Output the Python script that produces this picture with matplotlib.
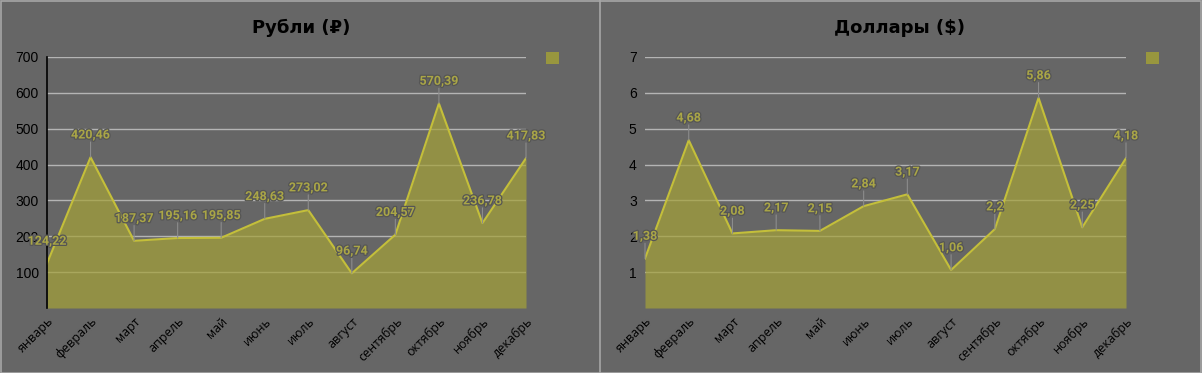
import matplotlib
matplotlib.use('Agg')
import matplotlib.pyplot as plt
import matplotlib.patheffects as pe
from matplotlib.patches import Patch, Rectangle

months = ['январь', 'февраль', 'март', 'апрель', 'май', 'июнь',
          'июль', 'август', 'сентябрь', 'октябрь', 'ноябрь', 'декабрь']
rub_values = [124.22, 420.46, 187.37, 195.16, 195.85, 248.63,
              273.02, 96.74, 204.57, 570.39, 236.78, 417.83]
usd_values = [1.38, 4.68, 2.08, 2.17, 2.15, 2.84,
              3.17, 1.06, 2.2, 5.86, 2.25, 4.18]
rub_ticks = [100, 200, 300, 400, 500, 600, 700]
usd_ticks = [1, 2, 3, 4, 5, 6, 7]

BG = '#666666'
FILL = '#a5a238'
LINE = '#c4bf3a'
LABEL = '#aaa646'
GRID = '#b4b4b4'

fig = plt.figure(figsize=(12.02, 3.73), dpi=100, facecolor=BG)

# frame around the image and divider between panels
fig.patches.append(Rectangle((0.0005, 0.001), 0.999, 0.997, transform=fig.transFigure,
                             fill=False, edgecolor='#a6a6a6', linewidth=1.2))
fig.add_artist(plt.Line2D([600 / 1202, 600 / 1202], [0, 1], transform=fig.transFigure,
                          color='#a6a6a6', linewidth=1.2))


def draw_panel(ax, values, ticks, title, left_spine):
    x = list(range(len(values)))
    ax.set_facecolor(BG)
    ax.fill_between(x, values, 0, color=FILL, alpha=0.7, linewidth=0, zorder=3)
    ax.plot(x, values, color=LINE, linewidth=1.5, zorder=4)
    ax.set_xlim(0, len(values) - 1)
    ax.set_ylim(0, ticks[-1])
    ax.set_yticks(ticks)
    ax.set_yticklabels([str(t) for t in ticks], fontfamily='Liberation Sans', fontsize=10)
    ax.yaxis.grid(True, color=GRID, linewidth=1, zorder=1)
    ax.set_axisbelow(True)
    ax.set_xticks(x)
    ax.set_xticklabels(months, rotation=45, ha='right', rotation_mode='anchor',
                       fontsize=9, fontfamily='Open Sans', color='black')
    ax.tick_params(axis='both', length=0, colors='black')
    ax.tick_params(axis='y', pad=6)
    ax.tick_params(axis='x', pad=5)
    for side in ['top', 'right', 'bottom', 'left']:
        ax.spines[side].set_visible(False)
    if left_spine:
        ax.spines['left'].set_visible(True)
        ax.spines['left'].set_color('black')
        ax.spines['left'].set_linewidth(1.2)
        ax.spines['left'].set_zorder(6)

    # data labels with leader lines
    for xi, v in zip(x, values):
        ax.annotate('', xy=(xi, v), xytext=(0, 11), textcoords='offset points',
                    arrowprops=dict(arrowstyle='-', color='#8c8c8c', lw=0.8,
                                    shrinkA=0, shrinkB=0), zorder=5)
        txt = ax.annotate(str(v).replace('.', ','), xy=(xi, v), xytext=(0, 16),
                          textcoords='offset points', ha='center', va='center',
                          fontsize=9, fontweight='bold', fontfamily='Roboto',
                          color=LABEL, zorder=7, annotation_clip=False)
        txt.set_path_effects([pe.withStroke(linewidth=1.8, foreground='#555555')])

    ax.legend(handles=[Patch(facecolor='#98963e', edgecolor='none')], labels=[''],
              loc='upper left', bbox_to_anchor=(1.016, 1.07), frameon=False,
              handlelength=0.9, handleheight=0.9, handletextpad=0)
    ax.set_title(title, fontsize=13, fontweight='bold', color='black', pad=17)


ax1 = fig.add_axes([47 / 1202, 65 / 373, 479 / 1202, 251 / 373])
draw_panel(ax1, rub_values, rub_ticks, 'Рубли (₽)', True)
ax1.title.set_position((0.53, 1.0))

ax2 = fig.add_axes([645 / 1202, 65 / 373, 481 / 1202, 251 / 373])
draw_panel(ax2, usd_values, usd_ticks, 'Доллары ($)', False)
ax2.title.set_position((0.53, 1.0))

fig.savefig('out.png', dpi=100, facecolor=BG)
